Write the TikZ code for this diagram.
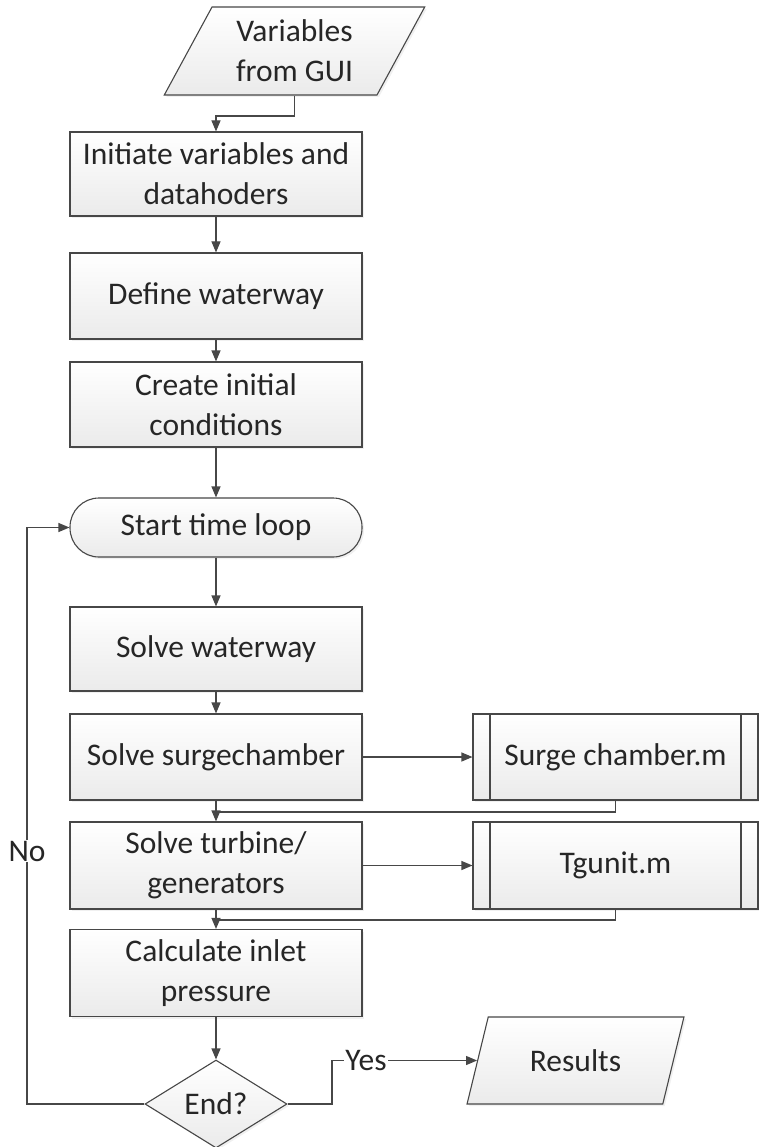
\documentclass[tikz,border=0pt]{standalone}
\usepackage{fontspec}
\setmainfont{Carlito}
\usetikzlibrary{arrows.meta,shapes.geometric,shadows}
\definecolor{ln}{HTML}{474747}
\definecolor{tx}{HTML}{262626}
\begin{document}
\begin{tikzpicture}[x=1pt,y=-1pt,
  font=\fontsize{31.5}{40}\selectfont, text=tx,
  base/.style={draw=ln, line width=1.1pt, top color=white, bottom color=black!8,
    drop shadow={opacity=0.12, shadow xshift=2pt, shadow yshift=-2pt},
    align=center, inner sep=0pt},
  procbox/.style={base, rectangle, minimum width=292pt, minimum height=#1},
  subproc/.style={base, rectangle, minimum width=285pt, minimum height=#1,
    path picture={
      \draw[ln, line width=1.1pt] ([xshift=17pt]path picture bounding box.north west) -- ([xshift=17pt]path picture bounding box.south west);
      \draw[ln, line width=1.1pt] ([xshift=-17pt]path picture bounding box.north east) -- ([xshift=-17pt]path picture bounding box.south east);
    }},
  termbox/.style={base, rectangle, rounded corners=29pt, minimum width=292pt, minimum height=59pt},
  iobox/.style={base, trapezium, trapezium left angle=#1, trapezium right angle=180-#1,
    trapezium stretches=true},
  decbox/.style={base, diamond, minimum width=142pt, minimum height=88pt},
  lbl/.style={fill=white, inner sep=1pt},
  conn/.style={draw=ln, line width=1.1pt},
  arr/.style={conn, -{Triangle[length=11pt,width=9pt]}}
]
\useasboundingbox (0,0) rectangle (758,1147);

\node[iobox=61.4, minimum width=261pt, minimum height=88pt] (gui) at (294.5,51) {Variables\\from GUI};
\node[procbox=84pt] (init) at (216,174) {Initiate variables and\\datahoders};
\node[procbox=86pt] (define) at (216,296) {Define waterway};
\node[procbox=85pt] (create) at (216,404.5) {Create initial\\conditions};
\node[termbox] (start) at (216,527.5) {Start time loop};
\node[procbox=84pt] (water) at (216,649) {Solve waterway};
\node[procbox=86pt] (surge) at (216,757) {Solve surgechamber};
\node[subproc=86pt] (surgem) at (615.5,757) {Surge chamber.m};
\node[procbox=87pt] (turb) at (216,865.5) {Solve turbine/\\generators};
\node[subproc=87pt] (tg) at (615.5,865.5) {Tgunit.m};
\node[procbox=87pt] (calc) at (216,973) {Calculate inlet\\pressure};
\node[decbox] (end) at (216,1104) {End?};
\node[iobox=63.4, minimum width=217pt, minimum height=87pt] (res) at (575.5,1060.5) {Results};

\coordinate (c1) at (216,116);
\coordinate (c2) at (216,812);
\coordinate (c3) at (216,920);
\coordinate (lp) at (27,1104);
\coordinate (y1) at (332,1104);
\coordinate (y2) at (332,1060.5);

\draw[arr] (gui.south) |- (c1) -- (init.north);
\draw[arr] (init) -- (define);
\draw[arr] (define) -- (create);
\draw[arr] (create) -- (start);
\draw[arr] (start) -- (water);
\draw[arr] (water) -- (surge);
\draw[arr] (surge.east) -- (surgem.west);
\draw[conn] (surgem.south) |- (c2);
\draw[arr] (surge) -- (turb);
\draw[arr] (turb.east) -- (tg.west);
\draw[conn] (tg.south) |- (c3);
\draw[arr] (turb) -- (calc);
\draw[arr] (calc) -- (end);
\draw[arr] (end.west) -- (lp) |- (start.west);
\draw[arr] (end.east) -- (y1) -- (y2) -- (res.left side);

\node[lbl] (no) at (27,851) {No};
\node[lbl] (yes) at (366,1060.5) {Yes};
\end{tikzpicture}
\end{document}
